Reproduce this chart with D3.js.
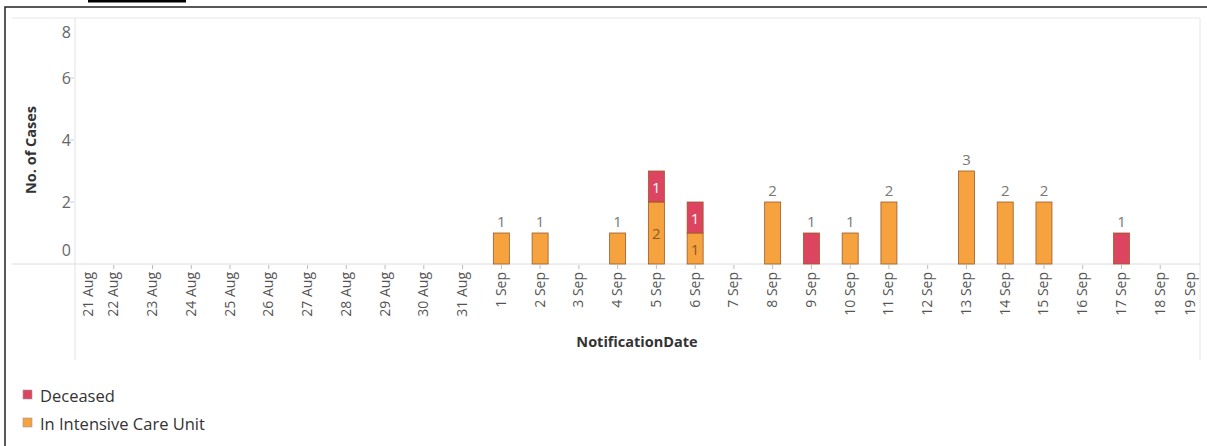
<!DOCTYPE html>
<html><head><meta charset="utf-8">
<script src="https://cdn.jsdelivr.net/npm/d3@7"></script>
<style>body{margin:0;background:#fff;}svg{display:block;}</style>
</head><body>
<svg id="c" width="1207" height="446"></svg>
<script>
// ---- data ----
const dateLabels = ["21 Aug","22 Aug","23 Aug","24 Aug","25 Aug","26 Aug","27 Aug","28 Aug","29 Aug","30 Aug","31 Aug",
  "1 Sep","2 Sep","3 Sep","4 Sep","5 Sep","6 Sep","7 Sep","8 Sep","9 Sep","10 Sep","11 Sep","12 Sep","13 Sep","14 Sep","15 Sep","16 Sep","17 Sep","18 Sep","19 Sep"];
const barDates = ["2020-09-01","2020-09-02","2020-09-04","2020-09-05","2020-09-06","2020-09-08","2020-09-09","2020-09-10","2020-09-11","2020-09-13","2020-09-14","2020-09-15","2020-09-17"];
const icuValues      = [1,1,1,2,1,2,0,1,2,3,2,2,0];
const deceasedValues = [0,0,0,1,1,0,1,0,0,0,0,0,1];
const seriesNames = ["Deceased","In Intensive Care Unit"];
const yTicks = [0,2,4,6,8];
const colors = {"Deceased":"#DD4460","In Intensive Care Unit":"#F6A23F"};

// ---- layout ----
const svg = d3.select("#c");
const parse = d3.utcParse("%Y-%m-%d");
const startDate = parse("2020-08-21"), endDate = parse("2020-09-19");
const x = d3.scaleUtc().domain([startDate, endDate]).range([75, 1199]);
const y = d3.scaleLinear().domain([0, 8]).range([264, 16]);
const font = "'Open Sans', 'Noto Sans', sans-serif";

// outer border & redaction bar
svg.append("rect").attr("x",5).attr("y",7).attr("width",1203).attr("height",450)
  .attr("fill","none").attr("stroke","#222").attr("stroke-width",1.5);
svg.append("rect").attr("x",88).attr("y",0).attr("width",98).attr("height",2.5).attr("fill","#000");

// frame lines
const g = svg.append("g");
g.append("line").attr("x1",12).attr("x2",1200).attr("y1",18).attr("y2",18).attr("stroke","#e6e6e6");
g.append("line").attr("x1",75).attr("x2",75).attr("y1",18).attr("y2",360).attr("stroke","#e2e2e2");
g.append("line").attr("x1",1200).attr("x2",1200).attr("y1",18).attr("y2",360).attr("stroke","#e6e6e6");
g.append("line").attr("x1",12).attr("x2",1200).attr("y1",y(0)).attr("y2",y(0)).attr("stroke","#dcdcdc");

// y axis ticks & labels
yTicks.forEach(v => {
  const yy = y(v);
  if (v > 0 && v < 8) g.append("line").attr("x1",70).attr("x2",74).attr("y1",yy).attr("y2",yy).attr("stroke","#ccc");
  g.append("text").attr("x",71).attr("y",Math.max(32, Math.min(250, yy)))
    .attr("text-anchor","end").attr("dominant-baseline","central")
    .attr("font-family",font).attr("font-size",16).attr("fill","#666").text(v);
});
g.append("text").attr("transform","translate(36,150) rotate(-90)")
  .attr("text-anchor","middle").attr("font-family",font).attr("font-size",14.5)
  .attr("font-weight","bold").attr("fill","#333").text("No. of Cases");

// x axis ticks & labels
const days = d3.utcDay.range(startDate, d3.utcDay.offset(endDate,1));
days.forEach((d,i) => {
  const xx = x(d);
  if (i > 0 && i < days.length-1) g.append("line").attr("x1",xx).attr("x2",xx).attr("y1",265).attr("y2",269).attr("stroke","#bbb");
  const lx = Math.max(88, Math.min(1190, xx));
  g.append("text").attr("transform",`translate(${lx+4.5},272) rotate(-90)`)
    .attr("text-anchor","end").attr("font-family",font).attr("font-size",14)
    .attr("fill","#555").text(dateLabels[i]);
});
g.append("text").attr("x",637).attr("y",347).attr("text-anchor","middle")
  .attr("font-family",font).attr("font-size",14.5).attr("font-weight","bold").attr("fill","#333")
  .text("NotificationDate");

// bars
const rows = barDates.map((d,i)=>({date:parse(d), "In Intensive Care Unit":icuValues[i], "Deceased":deceasedValues[i]}));
const stack = d3.stack().keys(["In Intensive Care Unit","Deceased"]);
const layers = stack(rows);
const bw = 16;
layers.forEach(layer => {
  const key = layer.key;
  layer.forEach(seg => {
    const v = seg[1]-seg[0];
    if (v <= 0) return;
    const d = seg.data;
    g.append("rect").attr("x",x(d.date)-bw/2).attr("y",y(seg[1]))
      .attr("width",bw).attr("height",y(seg[0])-y(seg[1]))
      .attr("fill",colors[key]).attr("stroke","#9a5a2a").attr("stroke-width",0.8);
  });
});
// labels
rows.forEach(r => {
  const a = r["In Intensive Care Unit"], b = r["Deceased"];
  const cx = x(r.date);
  if (a > 0 && b > 0) {
    g.append("text").attr("x",cx).attr("y",y(a/2)).attr("text-anchor","middle").attr("dominant-baseline","central")
      .attr("font-family",font).attr("font-size",15).attr("fill","#8a5a2a").text(a);
    g.append("text").attr("x",cx).attr("y",y(a+b/2)).attr("text-anchor","middle").attr("dominant-baseline","central")
      .attr("font-family",font).attr("font-size",15).attr("fill","#fff").text(b);
  } else {
    g.append("text").attr("x",cx).attr("y",y(a+b)-6).attr("text-anchor","middle")
      .attr("font-family",font).attr("font-size",15).attr("fill","#777").text(a+b);
  }
});

// legend
seriesNames.forEach((n,i) => {
  const ly = 395 + i*28;
  svg.append("rect").attr("x",23).attr("y",ly-5).attr("width",9).attr("height",9)
    .attr("fill",colors[n]).attr("stroke","#999").attr("stroke-width",0.6);
  svg.append("text").attr("x",40).attr("y",ly).attr("dominant-baseline","central")
    .attr("font-family",font).attr("font-size",16.5).attr("fill","#333").text(n);
});
</script>
</body></html>
